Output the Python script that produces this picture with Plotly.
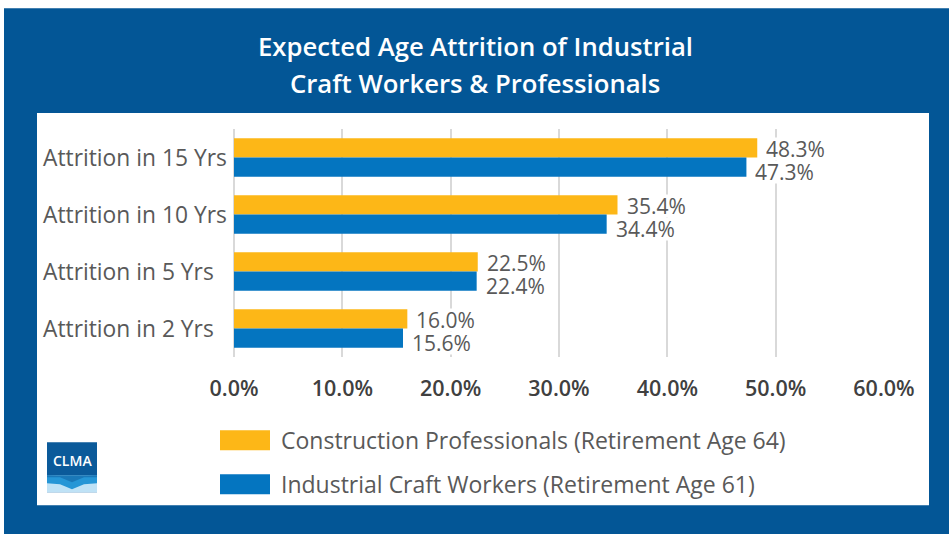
import plotly.graph_objects as go

# ---- data ----
categories = ["Attrition in 15 Yrs", "Attrition in 10 Yrs", "Attrition in 5 Yrs", "Attrition in 2 Yrs"]
professionals = [0.483, 0.354, 0.225, 0.160]
craft_workers = [0.473, 0.344, 0.224, 0.156]
series_names = ["Construction Professionals (Retirement Age 64)",
                "Industrial Craft Workers (Retirement Age 61)"]
x_ticks = [0, 0.1, 0.2, 0.3, 0.4, 0.5, 0.6]
title_lines = ["Expected Age Attrition of Industrial", "Craft Workers & Professionals"]

# ---- styling ----
W, H = 949, 535
ML, MR, MT, MB = 234, 65, 129, 177.5
PW, PH = W - ML - MR, H - MT - MB
FRAME_BLUE = "#035696"
YELLOW = "#FDB717"
BLUE = "#0475C0"
GREY_TXT = "#595959"
FONT = "Open Sans"


def px(x):
    return (x - ML) / PW


def py(y):
    return (H - MB - y) / PH


def rect(x0, y0, x1, y1, color, layer="below"):
    return dict(type="rect", xref="paper", yref="paper",
                x0=px(x0), x1=px(x1), y0=py(y1), y1=py(y0),
                fillcolor=color, line=dict(width=0), layer=layer)


def path(points, color):
    d = "M " + " L ".join(f"{px(a):.5f},{py(b):.5f}" for a, b in points) + " Z"
    return dict(type="path", xref="paper", yref="paper", path=d,
                fillcolor=color, line=dict(width=0), layer="above")


fig = go.Figure()
fig.add_trace(go.Bar(y=categories, x=professionals, orientation="h", name=series_names[0],
                     marker=dict(color=YELLOW, line=dict(width=0)), hoverinfo="x+name"))
fig.add_trace(go.Bar(y=categories, x=craft_workers, orientation="h", name=series_names[1],
                     marker=dict(color=BLUE, line=dict(width=0)), hoverinfo="x+name"))

shapes = [
    rect(4, 8, 949, 535, FRAME_BLUE),      # blue frame
    rect(37, 113, 929, 506, "white"),      # white panel
]

# legend swatches
shapes.append(rect(220, 431, 270, 451, YELLOW, layer="above"))
shapes.append(rect(220, 475, 270, 495, BLUE, layer="above"))

# CLMA badge
shapes.append(rect(47, 443, 97, 493, "#0B5A9A", layer="above"))
shapes.append(rect(47, 476, 97, 493, "#BFE2F6", layer="above"))
shapes.append(path([(47, 476), (60, 477), (72, 482), (84, 477), (97, 476),
                    (97, 484), (84, 485), (72, 490), (60, 485), (47, 484)], "#2696D6"))
shapes.append(path([(47, 476), (97, 476), (97, 478), (84, 478), (72, 483),
                    (60, 478), (47, 478)], "#1A78B8"))

annotations = []
for i, line in enumerate(title_lines):
    annotations.append(dict(text=line, xref="paper", yref="paper",
                            x=px(475), y=py(46 + 37 * i), xanchor="center", yanchor="middle",
                            showarrow=False,
                            font=dict(family=FONT, size=25.7, color="white", weight=600)))

annotations.append(dict(text="CLMA", xref="paper", yref="paper", x=px(72), y=py(461),
                        xanchor="center", yanchor="middle", showarrow=False,
                        font=dict(family=FONT, size=14, color="white", weight=600)))

for i, name in enumerate(series_names):
    annotations.append(dict(text=name, xref="paper", yref="paper", x=px(279), y=py(441 + 44 * i),
                            xanchor="left", yanchor="middle", showarrow=False,
                            font=dict(family=FONT, size=23, color=GREY_TXT)))

# left-aligned category labels
for cat in categories:
    annotations.append(dict(text=cat, xref="paper", yref="y", x=px(41), y=cat,
                            xanchor="left", yanchor="middle", showarrow=False,
                            font=dict(family=FONT, size=22.8, color=GREY_TXT)))

# value labels at the end of each bar
for values, yshift in ((professionals, 9), (craft_workers, -14)):
    for cat, v in zip(categories, values):
        annotations.append(dict(text=f"{v:.1%}", x=v, y=cat, xref="x", yref="y",
                                xanchor="left", yanchor="middle", xshift=8, yshift=yshift,
                                showarrow=False, bgcolor="white", borderpad=0, height=22,
                                font=dict(family=FONT, size=21, color=GREY_TXT)))

fig.update_layout(
    width=W, height=H,
    margin=dict(l=ML, r=MR, t=MT, b=MB, pad=0),
    paper_bgcolor="white", plot_bgcolor="rgba(0,0,0,0)",
    barmode="group", bargap=0.325, bargroupgap=0,
    showlegend=False,
    shapes=shapes, annotations=annotations,
    xaxis=dict(range=[0, 0.6], tickvals=x_ticks, tickformat=".1%",
               showgrid=True, gridcolor="#D9D9D9", gridwidth=2,
               zeroline=True, zerolinecolor="#D9D9D9", zerolinewidth=2,
               showline=False, ticks="", ticklabelstandoff=16,
               tickfont=dict(family=FONT, size=21.5, color="#404040", weight=600),
               fixedrange=True),
    yaxis=dict(autorange="reversed", showgrid=False, zeroline=False, showline=False,
               ticks="", showticklabels=False, fixedrange=True),
)

fig.write_html("out.html")
